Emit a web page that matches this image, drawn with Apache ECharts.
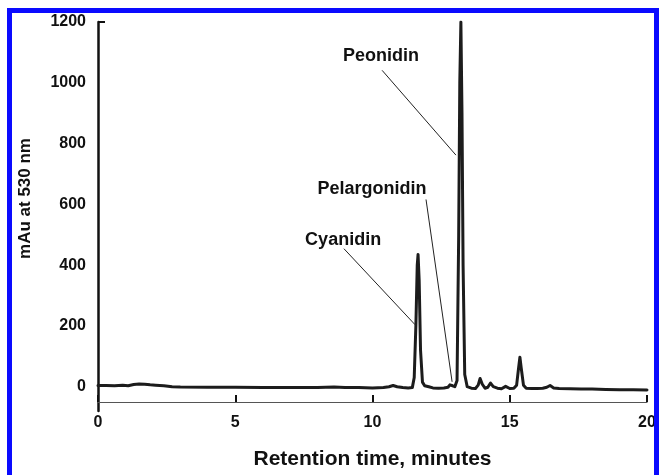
<!DOCTYPE html>
<html>
<head>
<meta charset="utf-8">
<script src="https://cdn.jsdelivr.net/npm/echarts@6/dist/echarts.min.js"></script>
<style>
  html, body { margin: 0; padding: 0; background: #fff; overflow: hidden; width: 659px; height: 475px; }
  #wrap { position: relative; width: 659px; height: 475px; overflow: hidden; }
  #chart { position: absolute; left: 0; top: 0; width: 659px; height: 475px; }
  #frame { position: absolute; left: 7px; top: 8px; width: 652px; height: 480px;
           box-sizing: border-box; border: 5px solid #0a0aff; pointer-events: none; }
</style>
</head>
<body>
<div id="wrap">
<div id="chart"></div>
<div id="frame"></div>
</div>
<script>
// ---- data ----
const times = [0, 0.3, 0.6, 0.9, 1.1, 1.3, 1.5, 1.7, 1.9, 2.1, 2.4, 2.7, 3.0, 4.0, 5.0, 6.0, 7.0, 8.0, 8.6, 9.0, 9.5, 10.0,
  10.4, 10.6, 10.75, 10.9, 11.1, 11.3, 11.45, 11.52, 11.58, 11.63, 11.66, 11.70, 11.75, 11.82, 11.9, 11.97, 12.05, 12.2,
  12.4, 12.6, 12.75, 12.82, 12.86, 12.92, 13.0, 13.08, 13.14, 13.18, 13.22, 13.26, 13.3, 13.36, 13.45, 13.6, 13.75, 13.85,
  13.92, 14.0, 14.1, 14.2, 14.3, 14.4, 14.55, 14.7, 14.85, 15.0, 15.15, 15.25, 15.32, 15.37, 15.42, 15.5, 15.6, 15.8,
  16.0, 16.2, 16.35, 16.47, 16.6, 16.8, 17.2, 17.6, 18.0, 18.5, 19.0, 19.5, 20.0];
const absorbance = [4, 4, 3, 5, 3, 7, 9, 8, 6, 5, 3, 0, -1, -2, -2, -3, -3, -3, -1, -3, -3, -4,
  -3, 0, 4, 0, -3, -4, -3, 30, 200, 400, 435, 350, 120, 15, 3, 7, 0, -4,
  -5, -4, -2, 6, 10, 3, 0, 20, 500, 1000, 1200, 900, 400, 40, 0, -5, -6, 5,
  27, 8, -5, -2, 12, 0, -5, -7, 1, -6, -5, 5, 60, 97, 60, 5, -5, -6,
  -6, -5, -2, 4, -4, -6, -7, -8, -8, -9, -10, -10, -11];
const xTicks = [0, 5, 10, 15, 20];
const yTicks = [0, 200, 400, 600, 800, 1000, 1200];
const peakNames = ['Peonidin', 'Pelargonidin', 'Cyanidin'];

// annotation anchors in data units (minutes, mAu)
const annot = {
  Peonidin:     { text: [10.31, 1087], from: [10.35, 1041], to: [13.04, 762] },
  Pelargonidin: { text: [9.98, 649],   from: [11.95, 616],  to: [12.90, 16] },
  Cyanidin:     { text: [8.93, 483],   from: [8.96, 454],   to: [11.55, 204] }
};

const FONT = '"Liberation Sans", Arial, sans-serif';
const chart = echarts.init(document.getElementById('chart'));
const seriesData = times.map((t, i) => [t, absorbance[i]]);

chart.setOption({
  animation: false,
  backgroundColor: '#fff',
  grid: { left: 98, right: 12, top: 22, bottom: 58, containLabel: false },
  xAxis: {
    type: 'value', min: 0, max: 20, interval: 5, offset: -9,
    name: 'Retention time, minutes', nameLocation: 'middle', nameGap: 47,
    nameTextStyle: { fontFamily: FONT, fontWeight: 'bold', fontSize: 21, color: '#111' },
    axisLine: { show: true, onZero: false, lineStyle: { color: '#555', width: 1.2 } },
    axisTick: { show: true, inside: true, length: 7, lineStyle: { color: '#111', width: 2 }, customValues: xTicks },
    axisLabel: { fontFamily: FONT, fontWeight: 'bold', fontSize: 16, color: '#111', margin: 13, customValues: xTicks },
    splitLine: { show: false }
  },
  yAxis: {
    type: 'value', min: -80, max: 1200,
    name: 'mAu at 530 nm', nameLocation: 'middle', nameGap: 64,
    nameTextStyle: { fontFamily: FONT, fontWeight: 'bold', fontSize: 17, color: '#111', padding: [0, 0, 0, 36] },
    axisLine: { show: true, onZero: false, lineStyle: { color: '#111', width: 2.5 } },
    axisTick: { show: true, inside: true, length: 7, lineStyle: { color: '#111', width: 2 }, customValues: [1200] },
    axisLabel: { fontFamily: FONT, fontWeight: 'bold', fontSize: 16, color: '#111', margin: 12,
                 customValues: yTicks, formatter: v => String(v) },
    splitLine: { show: false }
  },
  series: [{
    type: 'line',
    data: seriesData,
    showSymbol: false,
    symbol: 'none',
    lineStyle: { color: '#1c1c1c', width: 3, cap: 'round', join: 'round' },
    markLine: {
      silent: true, symbol: 'none', animation: false,
      lineStyle: { color: '#222', width: 1, type: 'solid' },
      label: { show: false },
      data: peakNames.map(n => [{ coord: annot[n].from }, { coord: annot[n].to }])
    },
    markPoint: {
      silent: true, animation: false,
      symbol: 'rect', symbolSize: [1, 1],
      itemStyle: { color: 'rgba(0,0,0,0)' },
      label: { show: true, position: 'inside', formatter: '{b}',
               fontFamily: FONT, fontWeight: 'bold', fontSize: 18, color: '#111' },
      data: peakNames.map(n => ({ name: n, coord: annot[n].text }))
    }
  }]
});
</script>
</body>
</html>
